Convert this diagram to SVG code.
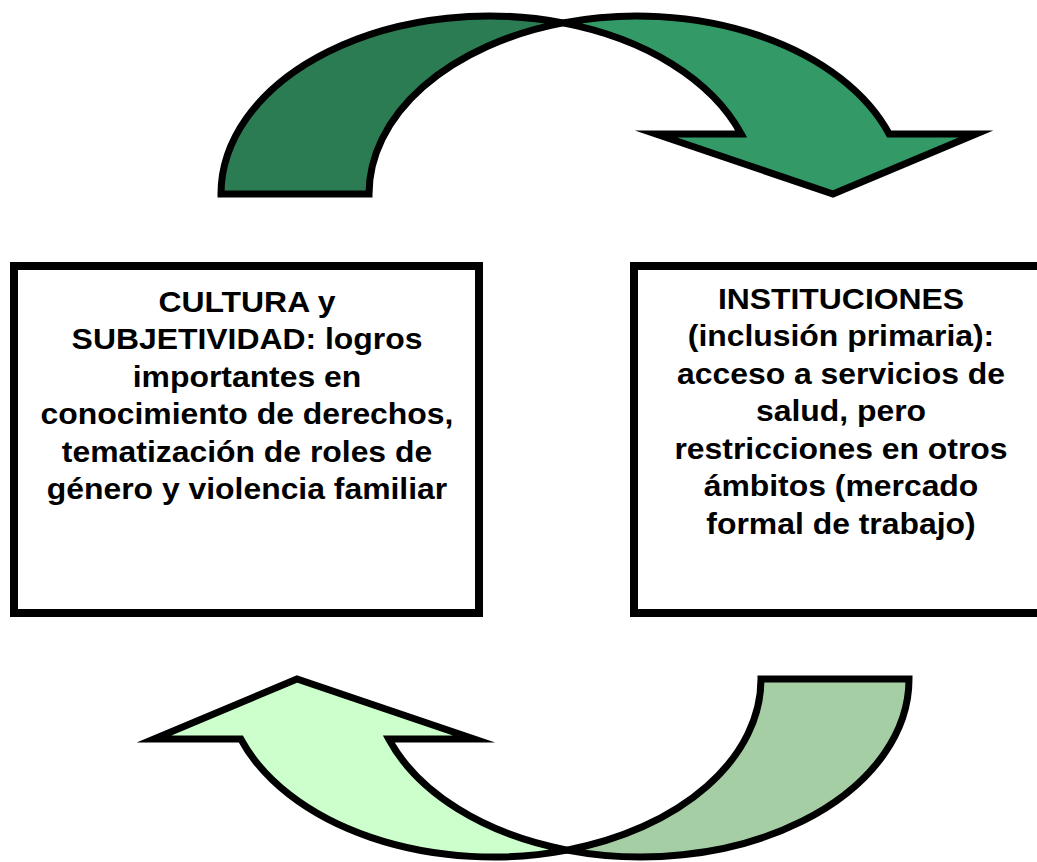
<svg xmlns="http://www.w3.org/2000/svg" width="1037" height="862" viewBox="0 0 1037 862">
<style>
.box{fill:#fff;stroke:#000;stroke-width:8}
.arr{stroke:#000;stroke-width:7;stroke-linejoin:miter;stroke-miterlimit:10}
.t{font-family:"Liberation Sans",Arial,sans-serif;font-weight:bold;font-size:29px;fill:#000;text-anchor:middle}
</style>
<rect width="1037" height="862" fill="#fff"/>
<g id="connectors">
  <g id="arrow-top">
    <path class="arr" fill="#2B7C53" d="M221,194 A268,178 0 0 1 563,22.9 A268,178 0 0 0 369,194 Z"/>
    <path class="arr" fill="#339966" d="M563,22.9 A268,178 0 0 1 889.2,134 L976,134 L833,194 L656,134 L741.2,134 A268,178 0 0 0 563,22.9 Z"/>
  </g>
  <g id="arrow-bottom" transform="rotate(180 565 436.5)">
    <path class="arr" fill="#A5CEA5" d="M221,194 A268,178 0 0 1 563,22.9 A268,178 0 0 0 369,194 Z"/>
    <path class="arr" fill="#CCFFCC" d="M563,22.9 A268,178 0 0 1 889.2,134 L976,134 L833,194 L656,134 L741.2,134 A268,178 0 0 0 563,22.9 Z"/>
  </g>
</g>
<g id="node-cultura">
  <rect class="box" x="14" y="266" width="465" height="347"/>
  <g transform="translate(247,0) scale(1.1,1)">
    <text class="t" x="0" y="312">CULTURA y</text>
    <text class="t" x="0" y="349.5">SUBJETIVIDAD: logros</text>
    <text class="t" x="0" y="387">importantes en</text>
    <text class="t" x="0" y="424.5">conocimiento de derechos,</text>
    <text class="t" x="0" y="462">tematización de roles de</text>
    <text class="t" x="0" y="499.5">género y violencia familiar</text>
  </g>
</g>
<g id="node-instituciones">
  <rect class="box" x="634" y="266" width="465" height="347"/>
  <g transform="translate(841,0) scale(1.1,1)">
    <text class="t" x="0" y="309">INSTITUCIONES</text>
    <text class="t" x="0" y="346.5">(inclusión primaria):</text>
    <text class="t" x="0" y="384">acceso a servicios de</text>
    <text class="t" x="0" y="421.5">salud, pero</text>
    <text class="t" x="0" y="459">restricciones en otros</text>
    <text class="t" x="0" y="496.5">ámbitos (mercado</text>
    <text class="t" x="0" y="534">formal de trabajo)</text>
  </g>
</g>
</svg>
